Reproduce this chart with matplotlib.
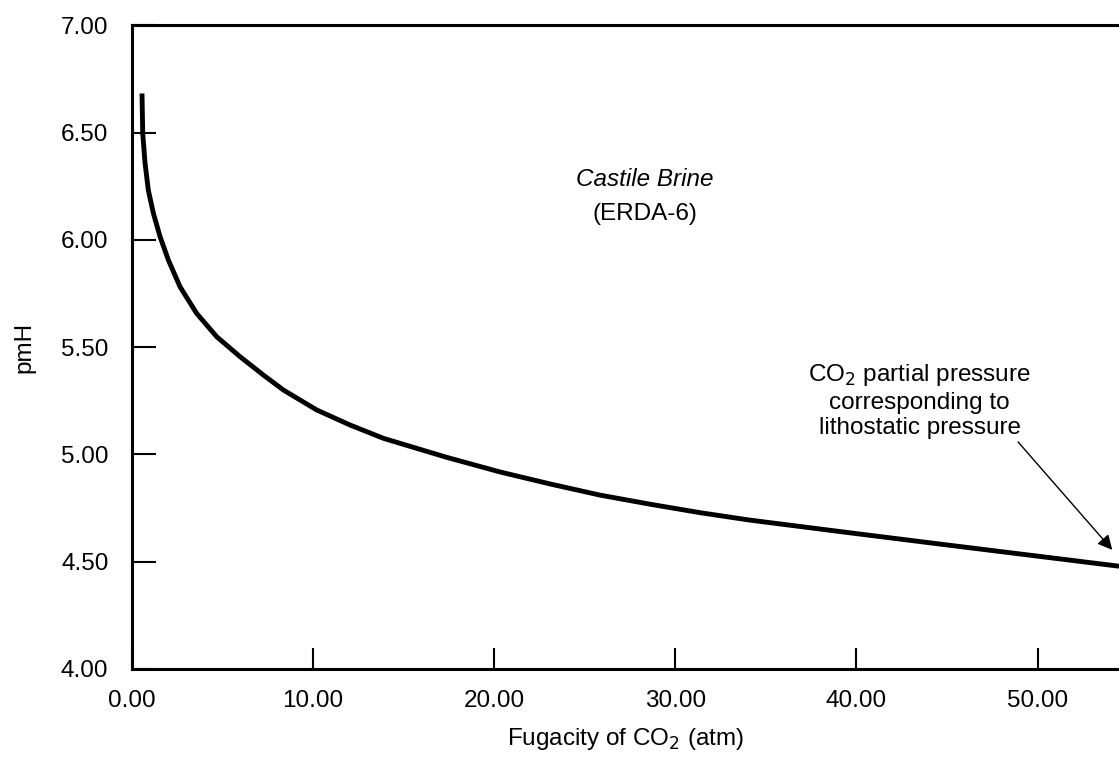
import matplotlib
matplotlib.use("Agg")
import matplotlib.pyplot as plt

# pmH vs CO2 fugacity
fco2 = [0.55, 0.59, 0.72, 0.90, 1.18, 1.55, 2.01, 2.65, 3.57, 4.68, 5.97, 7.25,
        8.36, 10.2, 12.04, 13.88, 15.73, 17.39, 20.33, 23.1, 25.86, 28.6, 31.4,
        34.1, 39.7, 45.2, 50.0, 54.5]
pmh = [6.682, 6.496, 6.356, 6.231, 6.123, 6.014, 5.905, 5.781, 5.657, 5.548, 5.455, 5.370,
       5.300, 5.207, 5.137, 5.075, 5.028, 4.986, 4.918, 4.862, 4.810, 4.768, 4.728,
       4.694, 4.634, 4.576, 4.526, 4.479]

xticks = [0, 10, 20, 30, 40, 50]
yticks = [4.0, 4.5, 5.0, 5.5, 6.0, 6.5, 7.0]

plt.rcParams['font.family'] = ['Liberation Sans', 'DejaVu Sans']
fs = 17.5

fig = plt.figure(figsize=(11.19, 7.65), dpi=100)
ax = fig.add_axes([0.118, 0.1255, 0.882, 0.8415])

ax.plot(fco2, pmh, color='black', lw=3.5, solid_joinstyle='round', solid_capstyle='butt')

ax.set_xlim(0, 54.5)
ax.set_ylim(4.0, 7.0)
ax.set_xticks(xticks)
ax.set_yticks(yticks)
ax.set_xticklabels(['%.2f' % t for t in xticks])
ax.set_yticklabels(['%.2f' % t for t in yticks])
ax.tick_params(axis='x', direction='in', length=15, width=1.5, pad=15, labelsize=fs)
ax.tick_params(axis='y', direction='in', length=17, width=1.5, pad=17, labelsize=fs)

ax.spines['right'].set_visible(False)
for s in ['left', 'top', 'bottom']:
    ax.spines[s].set_linewidth(2.2)

ax.set_xlabel('Fugacity of CO$_2$ (atm)', fontsize=fs, labelpad=10)
ax.set_ylabel('pmH', fontsize=fs, labelpad=18)

ax.text(28.3, 6.28, 'Castile Brine', style='italic', ha='center', va='center', fontsize=fs)
ax.text(28.3, 6.12, '(ERDA-6)', ha='center', va='center', fontsize=fs)

ax.annotate('CO$_2$ partial pressure\ncorresponding to\nlithostatic pressure',
            xy=(54.13, 4.555), xytext=(43.5, 5.25),
            ha='center', va='center', fontsize=fs, linespacing=1.2,
            arrowprops=dict(arrowstyle='-|>', color='black', lw=1.0,
                            mutation_scale=22, shrinkA=0, shrinkB=0,
                            relpos=(0.93, 0.0)),
            annotation_clip=False)

fig.savefig('out.png', dpi=100)
